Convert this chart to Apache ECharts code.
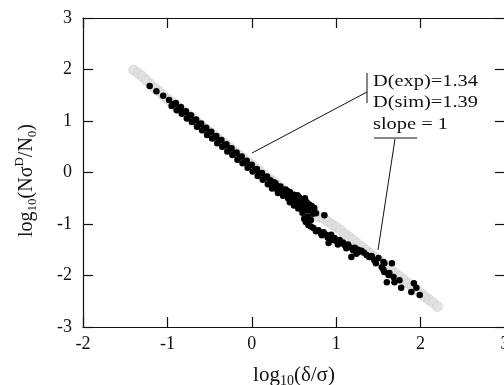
<!DOCTYPE html>
<html>
<head>
<meta charset="utf-8">
<script src="https://cdn.jsdelivr.net/npm/echarts@6/dist/echarts.min.js"></script>
<style>html,body{margin:0;padding:0;background:#fff;}#c{width:504px;height:385px;}</style>
</head>
<body>
<div id="c"></div>
<script>
// Tick labels
const xTicks = [-2, -1, 0, 1, 2, 3];
const yTicks = [-3, -2, -1, 0, 1, 2, 3];

// Simulation (grey band) points
const simPoints = [
[-1.40,1.99],[-1.35,1.93],[-1.30,1.87],[-1.25,1.79],[-1.20,1.72],[-1.15,1.64],[-1.10,1.58],[-1.05,1.50],
[-1.00,1.43],[-0.95,1.37],[-0.90,1.30],[-0.85,1.24],[-0.80,1.17],[-0.75,1.11],[-0.70,1.05],[-0.65,0.98],
[-0.60,0.92],[-0.55,0.85],[-0.50,0.79],[-0.45,0.72],[-0.40,0.66],[-0.35,0.60],[-0.30,0.53],[-0.25,0.47],
[-0.20,0.40],[-0.15,0.34],[-0.10,0.28],[-0.05,0.21],[0.00,0.15],[0.05,0.08],[0.10,0.02],[0.15,-0.05],
[0.20,-0.11],[0.25,-0.17],[0.30,-0.24],[0.35,-0.30],[0.40,-0.37],[0.45,-0.43],[0.50,-0.50],[0.55,-0.56],
[0.60,-0.62],[0.65,-0.68],[0.70,-0.74],[0.75,-0.80],[0.80,-0.86],[0.85,-0.89],[0.90,-0.95],[0.95,-1.01],
[1.00,-1.06],[1.05,-1.12],[1.10,-1.19],[1.15,-1.25],[1.20,-1.31],[1.25,-1.38],[1.30,-1.44],[1.35,-1.51],
[1.40,-1.57],[1.45,-1.64],[1.50,-1.70],[1.55,-1.76],[1.60,-1.83],[1.65,-1.89],[1.70,-1.96],[1.75,-2.02],
[1.80,-2.08],[1.85,-2.15],[1.90,-2.21],[1.95,-2.28],[2.00,-2.34],[2.05,-2.41],[2.10,-2.47],[2.15,-2.53],
[2.20,-2.60]
];

const expPoints = [
[-1.21,1.68],[-1.13,1.58],[-1.05,1.49],
[-0.98,1.41],[-0.92,1.33],[-0.86,1.25],[-0.80,1.17],[-0.74,1.10],[-0.68,1.01],[-0.62,0.94],[-0.56,0.85],
[-0.50,0.78],[-0.44,0.69],[-0.38,0.62],[-0.32,0.53],[-0.26,0.46],[-0.20,0.37],[-0.14,0.30],[-0.08,0.21],
[-0.02,0.14],[0.04,0.05],[0.10,-0.02],[0.16,-0.10],
[-0.95,1.29],[-0.89,1.21],[-0.83,1.14],[-0.77,1.05],[-0.71,0.98],[-0.65,0.89],[-0.59,0.82],[-0.53,0.73],
[-0.47,0.66],[-0.41,0.57],[-0.35,0.50],[-0.29,0.41],[-0.23,0.34],[-0.17,0.25],[-0.11,0.18],[-0.05,0.09],
[0.01,0.02],[0.07,-0.07],[0.13,-0.14],[0.19,-0.23],
[-0.90,1.35],[-0.84,1.27],[-0.78,1.19],[-0.72,1.11],[-0.66,1.03],[-0.60,0.95],[-0.54,0.87],[-0.48,0.79],
[-0.42,0.71],[-0.36,0.63],[-0.30,0.55],[-0.24,0.47],[-0.18,0.39],[-0.12,0.31],[-0.06,0.23],[0.00,0.15],
[0.06,0.07],[0.12,-0.01],[0.18,-0.08],
[0.22,-0.15],[0.25,-0.25],[0.24,-0.31],[0.28,-0.21],[0.30,-0.33],[0.31,-0.40],[0.34,-0.27],[0.36,-0.37],
[0.37,-0.45],[0.40,-0.33],[0.41,-0.42],[0.43,-0.50],[0.45,-0.38],[0.47,-0.47],[0.49,-0.56],[0.50,-0.43],
[0.53,-0.52],[0.55,-0.62],[0.56,-0.48],[0.58,-0.58],[0.60,-0.68],[0.62,-0.55],[0.64,-0.64],[0.66,-0.74],
[0.68,-0.62],[0.70,-0.71],[0.72,-0.80],[0.74,-0.69],[0.76,-0.79],[0.86,-0.83],[0.64,-0.96],
[0.26,-0.19],[0.33,-0.31],[0.39,-0.39],[0.46,-0.43],[0.52,-0.47],[0.59,-0.52],[0.65,-0.58],[0.71,-0.65],
[0.30,-0.26],[0.42,-0.36],[0.54,-0.44],[0.63,-0.50],
[0.45,-0.58],[0.50,-0.64],[0.55,-0.70],[0.60,-0.78],[0.66,-0.86],[0.62,-0.90],[0.70,-0.92],
[0.67,-1.02],[0.73,-1.08],[0.79,-1.12],[0.85,-1.16],[0.88,-1.21],[0.94,-1.21],[0.98,-1.27],[1.04,-1.31],
[1.10,-1.41],[1.16,-1.45],[1.20,-1.51],[1.27,-1.54],[1.33,-1.56],[1.39,-1.64],[1.45,-1.70],[1.18,-1.64],
[0.91,-1.37],[0.82,-1.18],[0.96,-1.31],[1.06,-1.37],[1.14,-1.40],[1.26,-1.50],
[0.70,-1.05],[0.76,-1.14],[0.83,-1.22],[0.90,-1.26],[0.93,-1.30],[1.00,-1.33],[1.02,-1.40],[1.08,-1.36],
[1.12,-1.47],[1.22,-1.46],[1.24,-1.58],[1.30,-1.52],[1.36,-1.60],[1.42,-1.62],[1.47,-1.76],
[1.50,-1.66],[1.56,-1.74],[1.54,-1.84],[1.57,-1.93],[1.63,-1.95],
[1.57,-1.76],[1.66,-1.76],[1.56,-1.89],[1.62,-1.99],[1.68,-2.03],[1.60,-2.13],[1.69,-2.13],[1.75,-2.09],
[1.77,-2.24],[1.92,-2.15],[1.95,-2.24],[1.89,-2.32],[1.99,-2.38]
];

const serif = '"Liberation Serif", "Times New Roman", serif';
const chart = echarts.init(document.getElementById('c'), null, {renderer: 'canvas'});
const axisLineStyle = {color: '#111', width: 1.2};
const opt = {
  animation: false,
  backgroundColor: '#fff',
  grid: {left: 83, right: -1, top: 18, bottom: 58, containLabel: false, outerBoundsMode: 'none'},
  xAxis: [{
    type: 'value', min: xTicks[0], max: xTicks[xTicks.length-1], interval: 1,
    axisLine: {show: true, onZero: false, lineStyle: axisLineStyle},
    axisTick: {show: true, inside: true, length: 10, lineStyle: axisLineStyle},
    splitLine: {show: false},
    axisLabel: {fontFamily: serif, fontSize: 18, color: '#111', margin: 8, formatter: v => String(v)},
    name: '{a|log}{b|10}{a|(δ/σ)}', nameLocation: 'middle', nameGap: 35,
    nameTextStyle: {rich: {
      a: {fontFamily: serif, fontSize: 21, color: '#111'},
      b: {fontFamily: serif, fontSize: 14, color: '#111', padding: [12, 0, 0, 0]}
    }}
  }, {
    type: 'value', position: 'top', min: xTicks[0], max: xTicks[xTicks.length-1], interval: 1,
    axisLine: {show: true, onZero: false, lineStyle: axisLineStyle},
    axisTick: {show: true, inside: true, length: 10, lineStyle: axisLineStyle},
    splitLine: {show: false}, axisLabel: {show: false}
  }],
  yAxis: [{
    type: 'value', min: yTicks[0], max: yTicks[yTicks.length-1], interval: 1,
    axisLine: {show: true, onZero: false, lineStyle: axisLineStyle},
    axisTick: {show: true, inside: true, length: 10, lineStyle: axisLineStyle},
    splitLine: {show: false},
    axisLabel: {fontFamily: serif, fontSize: 18, color: '#111', margin: 11, formatter: v => String(v)},
    name: '{a|log}{b|10}{a|(Nσ}{c|D}{a|/N}{b|0}{a|)}', nameLocation: 'middle', nameGap: 43, nameRotate: 90,
    nameTextStyle: {padding: [0, 16, 0, 0], rich: {
      a: {fontFamily: serif, fontSize: 20, color: '#111'},
      b: {fontFamily: serif, fontSize: 13, color: '#111', padding: [12, 0, 0, 0]},
      c: {fontFamily: serif, fontSize: 13, color: '#111', padding: [0, 0, 14, 0]}
    }}
  }, {
    type: 'value', position: 'right', min: yTicks[0], max: yTicks[yTicks.length-1], interval: 1,
    axisLine: {show: true, onZero: false, lineStyle: axisLineStyle},
    axisTick: {show: true, inside: true, length: 10, lineStyle: axisLineStyle},
    splitLine: {show: false}, axisLabel: {show: false}
  }],
  series: [{
    name: 'sim', type: 'scatter', data: simPoints, symbolSize: 10, z: 1,
    itemStyle: {color: '#dedede', borderColor: '#c2c2c2', borderWidth: 0.6}
  }, {
    name: 'exp', type: 'scatter', data: expPoints, symbolSize: 6.5, z: 2,
    itemStyle: {color: '#000', opacity: 1}
  }],
  graphic: [
    {type: 'line', shape: {x1: 367, y1: 73, x2: 367, y2: 103}, style: {stroke: '#111', lineWidth: 1}},
    {type: 'line', shape: {x1: 367, y1: 92, x2: 252, y2: 153}, style: {stroke: '#111', lineWidth: 1}},
    {type: 'line', shape: {x1: 374, y1: 138, x2: 417, y2: 138}, style: {stroke: '#111', lineWidth: 1}},
    {type: 'line', shape: {x1: 395, y1: 139, x2: 378, y2: 250}, style: {stroke: '#111', lineWidth: 1}},
    {type: 'text', x: 373, y: 82, scaleX: 1.2, style: {text: 'D(exp)=1.34', font: '17px ' + serif, fill: '#111', textVerticalAlign: 'middle'}},
    {type: 'text', x: 373, y: 103, scaleX: 1.2, style: {text: 'D(sim)=1.39', font: '17px ' + serif, fill: '#111', textVerticalAlign: 'middle'}},
    {type: 'text', x: 373, y: 125, scaleX: 1.2, style: {text: 'slope = 1', font: '17px ' + serif, fill: '#111', textVerticalAlign: 'middle'}}
  ]
};
chart.setOption(opt);
</script>
</body>
</html>
